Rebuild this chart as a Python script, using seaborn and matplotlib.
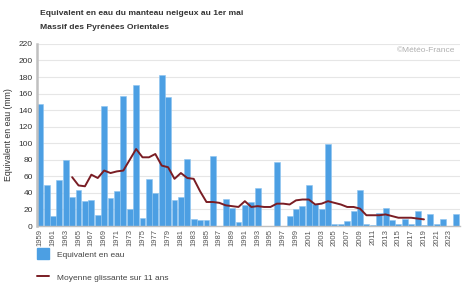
import numpy as np
import pandas as pd
import matplotlib
matplotlib.use("Agg")
import matplotlib.pyplot as plt
import seaborn as sns
from matplotlib.patches import Patch
from matplotlib.lines import Line2D

# Data
years = list(range(1959, 2025))
swe = [148, 50, 12, 56, 80, 35, 43, 30, 32, 13,
       145, 34, 42, 157, 21, 170, 10, 57, 40, 183,
       156, 32, 35, 81, 8, 7, 7, 84, 0, 33,
       22, 5, 25, 29, 46, 0, 0, 77, 0, 12,
       20, 24, 50, 27, 21, 99, 3, 2, 6, 18,
       43, 2, 1, 16, 22, 7, 3, 8, 2, 18,
       1, 14, 3, 9, 0, 14]

ma_years = list(range(1964, 2020))
ma_values = [59, 49, 48, 62, 58, 67, 64, 66, 67, 80,
             93, 83, 83, 87, 73, 71, 57, 64, 58, 57,
             42, 29, 29, 28, 25, 24, 23, 30, 23, 24,
             23, 23, 27, 27, 26, 31, 32, 32, 26, 27,
             30, 28, 26, 23, 23, 21, 13, 13, 13, 14,
             12, 10, 10, 10, 9, 8]

tick_years = list(range(1959, 2024, 2))

bars = pd.DataFrame({"annee": years, "eau": swe})
moy = pd.DataFrame({"annee": ma_years, "moy": ma_values})

sns.set_style("white")
plt.rcParams['font.family'] = ['Liberation Sans', 'DejaVu Sans']

bar_color = "#4c9fe3"
line_color = "#7a1d24"
grid_color = "#e6e6e6"
text_color = "#333333"

fig = plt.figure(figsize=(4.74, 3.05), dpi=100)
ax = fig.add_axes([0.078, 0.259, 0.892, 0.597])

sns.barplot(data=bars, x="annee", y="eau", native_scale=True, color=bar_color,
            saturation=1, width=0.92, edgecolor="#8cc4f0", linewidth=0.4, ax=ax)
sns.lineplot(data=moy, x="annee", y="moy", color=line_color, linewidth=1.4, ax=ax)

ax.set_xlim(1958.5, 2024.6)
ax.set_ylim(0, 220)
ax.set_yticks(range(0, 221, 20))
ax.set_xticks(tick_years)
ax.set_xticklabels([str(y) for y in tick_years], rotation=90)
ax.tick_params(axis="x", labelsize=5.5, colors="#555555", length=0, pad=2)
ax.tick_params(axis="y", labelsize=6, colors=text_color, length=0, pad=3)
ax.grid(axis="y", color=grid_color, linewidth=0.8)
ax.set_axisbelow(True)
for s in ["top", "right"]:
    ax.spines[s].set_visible(False)
ax.spines["left"].set_color("#c0c0c0")
ax.spines["left"].set_linewidth(1.8)
ax.spines["bottom"].set_color("#c0c0c0")
ax.spines["bottom"].set_linewidth(1.0)

ax.set_xlabel("")
ax.set_ylabel("Equivalent en eau (mm)", fontsize=6.3, color=text_color, labelpad=4)

fig.text(0.085, 0.955, "Equivalent en eau du manteau neigeux au 1er mai",
         fontsize=6.1, fontweight="bold", color=text_color, va="center")
fig.text(0.085, 0.91, "Massif des Pyrénées Orientales",
         fontsize=6.1, fontweight="bold", color=text_color, va="center")
fig.text(0.96, 0.835, "©Météo-France", fontsize=6, color="#b0b0b0",
         ha="right", va="center")

handles = [Patch(facecolor=bar_color, edgecolor=bar_color),
           Line2D([0], [0], color=line_color, linewidth=1.4)]
fig.legend(handles, ["Equivalent en eau", "Moyenne glissante sur 11 ans"],
           loc="upper left", bbox_to_anchor=(0.062, 0.21), frameon=False,
           fontsize=6, labelcolor="#444444", handlelength=1.4,
           handleheight=1.6, labelspacing=1.5, handletextpad=1.0)

fig.savefig("out.png", dpi=100)
